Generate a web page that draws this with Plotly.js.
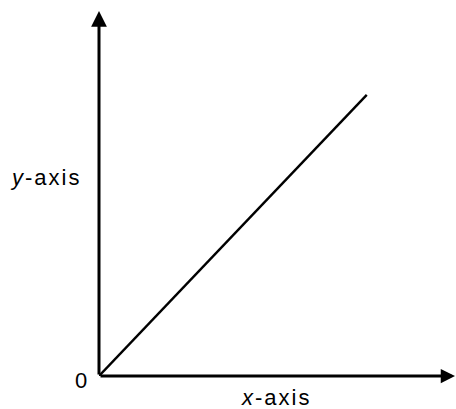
<!DOCTYPE html>
<html>
<head>
<meta charset="utf-8">
<script src="https://cdn.plot.ly/plotly-3.0.1.min.js"></script>
<style>
html,body{margin:0;padding:0;background:#fff;}
#chart{width:456px;height:409px;}
.annotation-text{letter-spacing:2px;}
</style>
</head>
<body>
<div id="chart"></div>
<script>
// Data: a straight line through the origin
const lineX = [0, 7.5];
const lineY = [0, 7.7];
const xLabel = "<i>x</i>-axis";
const yLabel = "<i>y</i>-axis";
const originLabel = "0";

const font = {family: "Liberation Sans, Arial, sans-serif", size: 22, color: "#000"};

const trace = {
  x: lineX, y: lineY, type: "scatter", mode: "lines",
  line: {color: "#000", width: 2.4}, hoverinfo: "skip"
};

const W = 456, H = 409;
const m = {l: 99, r: 0, t: 11, b: 33};
const pw = W - m.l - m.r, ph = H - m.t - m.b;

const layout = {
  width: W, height: H, margin: m,
  paper_bgcolor: "#fff", plot_bgcolor: "#fff",
  showlegend: false,
  xaxis: {range: [0, 10], visible: false, fixedrange: true},
  yaxis: {range: [0, 10], visible: false, fixedrange: true},
  annotations: [
    // y axis arrow
    {xref: "paper", yref: "paper", x: 0, y: 1, ax: 0, ay: ph, axref: "pixel", ayref: "pixel",
     showarrow: true, arrowhead: 2, arrowsize: 1.05, arrowwidth: 3, arrowcolor: "#000", text: ""},
    // x axis arrow
    {xref: "paper", yref: "paper", x: 1, y: 0, ax: -pw, ay: 0, axref: "pixel", ayref: "pixel",
     showarrow: true, arrowhead: 2, arrowsize: 0.95, arrowwidth: 3, arrowcolor: "#000", text: ""},
    {xref: "paper", yref: "paper", x: (276 - m.l) / pw, y: (376 - 397) / ph, text: xLabel,
     showarrow: false, font: font, xanchor: "center", yanchor: "middle"},
    {xref: "paper", yref: "paper", x: (45 - m.l) / pw, y: (376 - 177) / ph, text: yLabel,
     showarrow: false, font: font, xanchor: "center", yanchor: "middle"},
    {xref: "paper", yref: "paper", x: (82 - m.l) / pw, y: (376 - 380) / ph, text: originLabel,
     showarrow: false, font: font, xanchor: "center", yanchor: "middle"}
  ]
};

Plotly.newPlot("chart", [trace], layout, {displayModeBar: false, staticPlot: true});
</script>
</body>
</html>
